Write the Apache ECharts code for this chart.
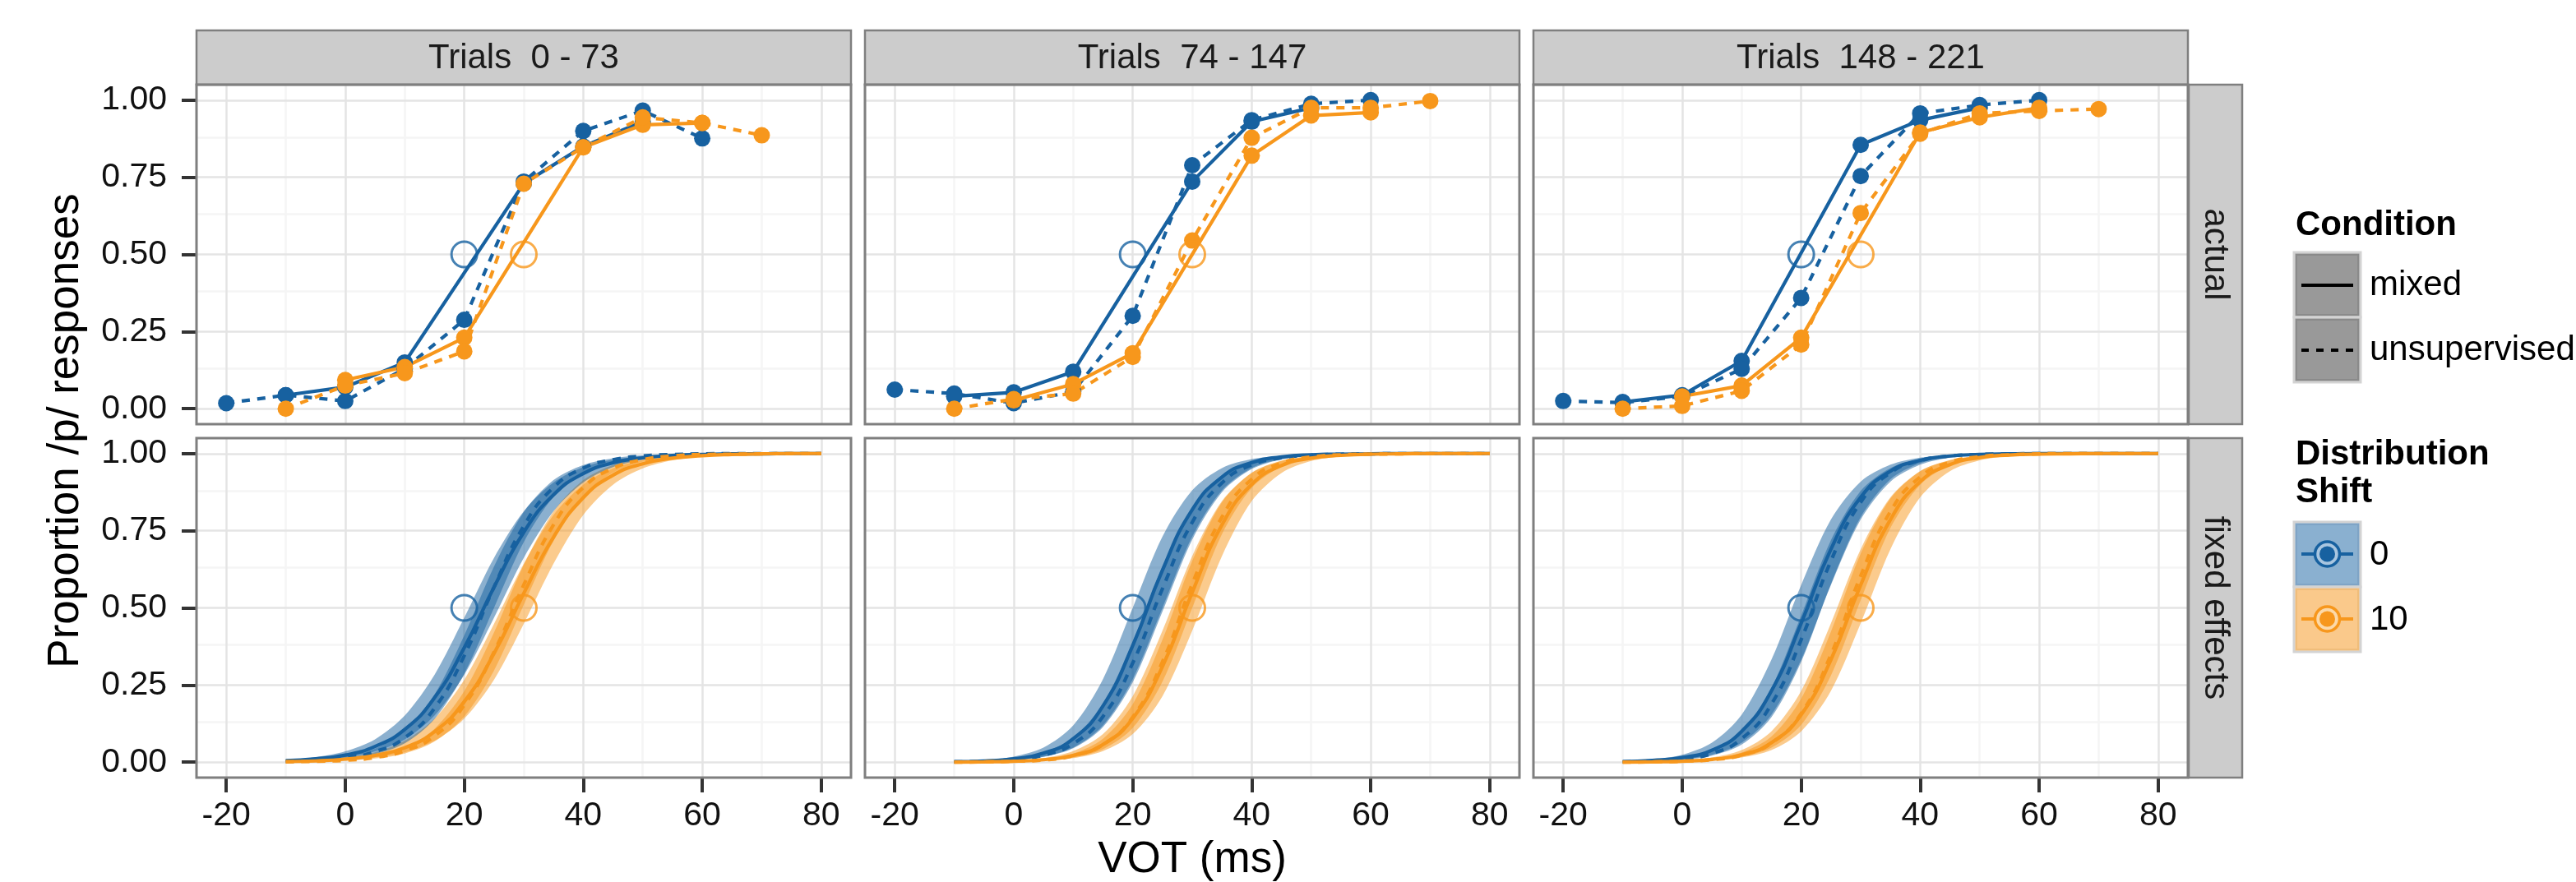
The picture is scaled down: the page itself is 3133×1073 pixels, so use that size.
<!DOCTYPE html>
<html><head><meta charset="utf-8">
<script src="https://cdn.jsdelivr.net/npm/echarts@6/dist/echarts.min.js"></script>
<style>html,body{margin:0;padding:0;background:#fff;}#c{width:3133px;height:1073px;}</style>
</head><body><div id="c"></div>
<script>
// ---------------- DATA ----------------
const PANEL_TITLES = ['Trials  0 - 73', 'Trials  74 - 147', 'Trials  148 - 221'];
const ROW_TITLES = ['actual', 'fixed effects'];
const X_TICKS = [-20, 0, 20, 40, 60, 80];
const X_MINOR = [-10, 10, 30, 50, 70];
const Y_TICKS = [0, 0.25, 0.5, 0.75, 1];
const Y_MINOR = [0.125, 0.375, 0.625, 0.875];
const BOUNDARY_X = [20, 30];
const BOUNDARY_Y = [0.5, 0.5];

// actual proportions (top row)
const UNS0_X = [-20, -10, 0, 10, 20, 30, 40, 50, 60];
const MIX0_X = [-10, 0, 10, 30, 40, 50];
const UNS10_X = [-10, 0, 10, 20, 30, 40, 50, 60, 70];
const MIX10_X = [0, 10, 20, 40, 50, 60];

const ACT_P1_B_MIX = [0.044, 0.07, 0.15, 0.73, 0.85, 0.93];
const ACT_P1_B_UNS = [0.018, 0.044, 0.025, 0.13, 0.288, 0.736, 0.90, 0.966, 0.876];
const ACT_P1_O_MIX = [0.093, 0.135, 0.23, 0.847, 0.92, 0.926];
const ACT_P1_O_UNS = [0.0, 0.075, 0.115, 0.186, 0.729, 0.847, 0.944, 0.926, 0.886];

const ACT_P2_B_MIX = [0.04, 0.053, 0.12, 0.736, 0.93, 0.975];
const ACT_P2_B_UNS = [0.062, 0.049, 0.018, 0.055, 0.301, 0.789, 0.935, 0.988, 1.0];
const ACT_P2_O_MIX = [0.027, 0.08, 0.18, 0.82, 0.95, 0.96];
const ACT_P2_O_UNS = [0.0, 0.031, 0.049, 0.168, 0.545, 0.878, 0.975, 0.975, 0.997];

const ACT_P3_B_MIX = [0.022, 0.044, 0.155, 0.855, 0.935, 0.975];
const ACT_P3_B_UNS = [0.025, 0.02, 0.04, 0.129, 0.359, 0.754, 0.957, 0.984, 1.0];
const ACT_P3_O_MIX = [0.04, 0.075, 0.23, 0.895, 0.944, 0.975];
const ACT_P3_O_UNS = [0.0, 0.009, 0.058, 0.208, 0.634, 0.891, 0.957, 0.965, 0.971];

// fixed effects curves (bottom row), read at these VOT values
const VOT_GRID = [-10, -5, 0, 5, 10, 15, 20, 25, 30, 35, 40, 45, 50, 55, 60, 65, 70, 75, 80];

const FE_P1_B_MIX    = [.005,.011,.023,.051,.106,.209,.371,.567,.745,.866,.935,.970,.986,.994,.997,.999,.999,1,1];
const FE_P1_B_UNS    = [.002,.006,.014,.034,.079,.175,.345,.567,.765,.890,.953,.980,.992,.997,.999,1,1,1,1];
const FE_P1_B_MIX_HI = [.007,.016,.035,.074,.151,.283,.468,.662,.813,.906,.956,.980,.991,.996,.998,.999,1,1,1];
const FE_P1_B_MIX_LO = [.003,.007,.016,.035,.074,.151,.283,.468,.662,.813,.906,.956,.980,.991,.996,.998,.999,1,1];
const FE_P1_B_UNS_HI = [.003,.007,.018,.044,.102,.219,.411,.634,.810,.914,.963,.985,.994,.998,.999,1,1,1,1];
const FE_P1_B_UNS_LO = [.002,.004,.010,.026,.061,.140,.287,.500,.713,.860,.939,.974,.990,.996,.998,.999,1,1,1];
const FE_P1_O_MIX    = [.002,.004,.010,.022,.047,.099,.196,.352,.547,.729,.857,.930,.967,.985,.993,.997,.999,1,1];
const FE_P1_O_UNS    = [.001,.003,.006,.015,.037,.085,.185,.357,.574,.769,.890,.952,.980,.992,.997,.998,.999,1,1];
const FE_P1_O_MIX_HI = [.003,.007,.015,.032,.069,.141,.267,.448,.643,.801,.899,.952,.978,.990,.995,.998,.999,1,1];
const FE_P1_O_MIX_LO = [.001,.003,.007,.015,.032,.069,.141,.267,.448,.643,.801,.899,.952,.978,.990,.995,.998,.999,1];
const FE_P1_O_UNS_HI = [.001,.003,.008,.020,.047,.108,.230,.420,.639,.812,.914,.963,.984,.994,.997,.999,1,1,1];
const FE_P1_O_UNS_LO = [.001,.002,.005,.012,.028,.067,.148,.297,.510,.717,.860,.938,.974,.989,.995,.998,.999,1,1];

const FE_P2_B_MIX    = [.0015,.004,.011,.029,.076,.182,.378,.622,.818,.924,.971,.989,.996,.998,.999,1,1,1,1];
const FE_P2_B_UNS    = [.001,.003,.009,.023,.060,.148,.321,.562,.777,.905,.963,.986,.995,.998,.999,1,1,1,1];
const FE_P2_B_MIX_HI = [.002,.007,.018,.047,.119,.269,.500,.731,.881,.953,.982,.993,.998,.999,1,1,1,1,1];
const FE_P2_B_MIX_LO = [.001,.002,.007,.018,.047,.119,.269,.500,.731,.881,.953,.982,.993,.998,.999,1,1,1,1];
const FE_P2_B_UNS_HI = [.002,.004,.012,.031,.079,.190,.389,.634,.825,.928,.972,.990,.996,.998,.999,1,1,1,1];
const FE_P2_B_UNS_LO = [.001,.002,.006,.017,.045,.114,.259,.488,.721,.875,.950,.981,.993,.997,.999,1,1,1,1];
const FE_P2_O_MIX    = [0,.001,.003,.008,.022,.057,.142,.310,.550,.769,.900,.961,.985,.994,.998,.999,1,1,1];
const FE_P2_O_UNS    = [0,.001,.003,.007,.021,.057,.146,.325,.577,.794,.917,.969,.989,.996,.998,.999,1,1,1];
const FE_P2_O_MIX_HI = [.001,.002,.005,.013,.036,.091,.214,.426,.668,.846,.937,.976,.991,.997,.999,1,1,1,1];
const FE_P2_O_MIX_LO = [0,.001,.002,.005,.013,.036,.091,.214,.426,.668,.846,.937,.976,.991,.997,.999,1,1,1];
const FE_P2_O_UNS_HI = [0,.001,.004,.010,.028,.076,.188,.397,.652,.842,.938,.977,.992,.997,.999,1,1,1,1];
const FE_P2_O_UNS_LO = [0,.001,.002,.005,.015,.042,.111,.261,.500,.739,.889,.958,.985,.995,.998,.999,1,1,1];

const FE_P3_B_MIX    = [.002,.006,.015,.039,.100,.231,.450,.690,.858,.943,.978,.992,.997,.999,1,1,1,1,1];
const FE_P3_B_UNS    = [.001,.004,.010,.028,.076,.188,.397,.652,.842,.938,.977,.992,.997,.999,1,1,1,1,1];
const FE_P3_B_MIX_HI = [.003,.009,.024,.063,.154,.332,.574,.786,.909,.964,.987,.995,.998,.999,1,1,1,1,1];
const FE_P3_B_MIX_LO = [.001,.003,.009,.024,.063,.154,.332,.574,.786,.909,.964,.987,.995,.998,.999,1,1,1,1];
const FE_P3_B_UNS_HI = [.002,.005,.014,.038,.101,.241,.475,.719,.879,.953,.983,.994,.998,.999,1,1,1,1,1];
const FE_P3_B_UNS_LO = [.001,.003,.007,.021,.057,.146,.325,.577,.794,.917,.969,.989,.996,.998,.999,1,1,1,1];
const FE_P3_O_MIX    = [0,.001,.003,.009,.024,.063,.154,.332,.574,.786,.909,.964,.987,.995,.998,.999,1,1,1];
const FE_P3_O_UNS    = [0,.001,.003,.008,.023,.062,.158,.348,.603,.812,.924,.972,.990,.996,.999,1,1,1,1];
const FE_P3_O_MIX_HI = [.001,.002,.006,.015,.039,.100,.231,.450,.690,.858,.943,.978,.992,.997,.999,1,1,1,1];
const FE_P3_O_MIX_LO = [0,.001,.002,.006,.015,.039,.100,.231,.450,.690,.858,.943,.978,.992,.997,.999,1,1,1];
const FE_P3_O_UNS_HI = [0,.001,.004,.011,.031,.083,.206,.423,.675,.854,.943,.979,.993,.997,.999,1,1,1,1];
const FE_P3_O_UNS_LO = [0,.001,.002,.006,.017,.047,.121,.281,.525,.759,.899,.962,.986,.995,.998,.999,1,1,1];

// ---------------- LAYOUT / STYLE ----------------
const FONT = '"Liberation Sans", Arial, Helvetica, sans-serif';
const COL_B = '#1761A0', COL_O = '#F7971C';
const DASH = [10, 9];
const PANEL_LEFT = [239, 1052, 1865];
const PANEL_TOP = [103, 533];
const PANEL_W = 796, PANEL_H = 413;
const STRIP_TOP = 37, STRIP_RIGHT_X = 2662, STRIP_W = 65;

const ACT = [
  {bm: ACT_P1_B_MIX, bu: ACT_P1_B_UNS, om: ACT_P1_O_MIX, ou: ACT_P1_O_UNS},
  {bm: ACT_P2_B_MIX, bu: ACT_P2_B_UNS, om: ACT_P2_O_MIX, ou: ACT_P2_O_UNS},
  {bm: ACT_P3_B_MIX, bu: ACT_P3_B_UNS, om: ACT_P3_O_MIX, ou: ACT_P3_O_UNS}
];
const FE = [
  {bm: FE_P1_B_MIX, bu: FE_P1_B_UNS, bmh: FE_P1_B_MIX_HI, bml: FE_P1_B_MIX_LO, buh: FE_P1_B_UNS_HI, bul: FE_P1_B_UNS_LO,
   om: FE_P1_O_MIX, ou: FE_P1_O_UNS, omh: FE_P1_O_MIX_HI, oml: FE_P1_O_MIX_LO, ouh: FE_P1_O_UNS_HI, oul: FE_P1_O_UNS_LO},
  {bm: FE_P2_B_MIX, bu: FE_P2_B_UNS, bmh: FE_P2_B_MIX_HI, bml: FE_P2_B_MIX_LO, buh: FE_P2_B_UNS_HI, bul: FE_P2_B_UNS_LO,
   om: FE_P2_O_MIX, ou: FE_P2_O_UNS, omh: FE_P2_O_MIX_HI, oml: FE_P2_O_MIX_LO, ouh: FE_P2_O_UNS_HI, oul: FE_P2_O_UNS_LO},
  {bm: FE_P3_B_MIX, bu: FE_P3_B_UNS, bmh: FE_P3_B_MIX_HI, bml: FE_P3_B_MIX_LO, buh: FE_P3_B_UNS_HI, bul: FE_P3_B_UNS_LO,
   om: FE_P3_O_MIX, ou: FE_P3_O_UNS, omh: FE_P3_O_MIX_HI, oml: FE_P3_O_MIX_LO, ouh: FE_P3_O_UNS_HI, oul: FE_P3_O_UNS_LO}
];

const pairs = (xs, ys) => xs.map((x, i) => [x, ys[i]]);

const grids = [], xAxes = [], yAxes = [], series = [], graphics = [];

for (let r = 0; r < 2; r++) {
  for (let c = 0; c < 3; c++) {
    const gi = r * 3 + c;
    grids.push({left: PANEL_LEFT[c], top: PANEL_TOP[r], width: PANEL_W, height: PANEL_H, show: false, containLabel: false});
    xAxes.push({
      type: 'value', gridIndex: gi, min: -25, max: 85, position: 'bottom',
      axisLine: {show: false, onZero: false}, splitLine: {show: false},
      axisTick: {show: r === 1, customValues: X_TICKS, length: 18, inside: false, lineStyle: {color: '#333', width: 4}},
      axisLabel: {show: r === 1, customValues: X_TICKS, margin: 26, fontSize: 41, fontFamily: FONT, color: '#111'}
    });
    yAxes.push({
      type: 'value', gridIndex: gi, min: -0.05, max: 1.05, position: 'left',
      axisLine: {show: false, onZero: false}, splitLine: {show: false},
      axisTick: {show: c === 0, customValues: Y_TICKS, length: 18, inside: false, lineStyle: {color: '#333', width: 4}},
      axisLabel: {show: c === 0, customValues: Y_TICKS, margin: 36, fontSize: 41, fontFamily: FONT, color: '#111',
                  formatter: v => Number(v).toFixed(2)}
    });
    // grid lines
    const ml = [];
    X_MINOR.forEach(v => ml.push({xAxis: v, lineStyle: {color: '#F5F5F5', width: 2.5, type: 'solid'}}));
    Y_MINOR.forEach(v => ml.push({yAxis: v, lineStyle: {color: '#F5F5F5', width: 2.5, type: 'solid'}}));
    X_TICKS.forEach(v => ml.push({xAxis: v, lineStyle: {color: '#E4E4E4', width: 2.5, type: 'solid'}}));
    Y_TICKS.forEach(v => ml.push({yAxis: v, lineStyle: {color: '#E4E4E4', width: 2.5, type: 'solid'}}));
    series.push({
      type: 'line', xAxisIndex: gi, yAxisIndex: gi, data: [], silent: true, z: 1,
      markLine: {silent: true, z: 1, symbol: ['none', 'none'], label: {show: false}, animation: false, data: ml}
    });

    if (r === 0) {
      const d = ACT[c];
      const mk = (xs, ys, col, dashed) => ({
        type: 'line', xAxisIndex: gi, yAxisIndex: gi, data: pairs(xs, ys), z: 3,
        symbol: 'circle', symbolSize: 20, showSymbol: true, smooth: false,
        lineStyle: {color: col, width: 4.2, type: dashed ? DASH : 'solid'},
        itemStyle: {color: col}
      });
      series.push(mk(MIX0_X, d.bm, COL_B, false));
      series.push(mk(UNS0_X, d.bu, COL_B, true));
      series.push(mk(MIX10_X, d.om, COL_O, false));
      series.push(mk(UNS10_X, d.ou, COL_O, true));
    } else {
      const d = FE[c];
      const ribbon = (lo, hi, col) => {
        const rows = VOT_GRID.map((x, i) => [x, lo[i], hi[i]]);
        series.push({
          type: 'custom', coordinateSystem: 'cartesian2d', xAxisIndex: gi, yAxisIndex: gi, z: 2, silent: true,
          data: rows, encode: {x: 0, y: [1, 2]}, clip: true,
          renderItem: (params, api) => {
            if (params.dataIndex !== 0) return null;
            const top = rows.map(rw => api.coord([rw[0], rw[2]]));
            const bot = rows.map(rw => api.coord([rw[0], rw[1]])).reverse();
            return {type: 'polygon', shape: {points: top.concat(bot), smooth: 0.3},
                    style: {fill: col, opacity: 0.5}};
          }
        });
      };
      // orange ribbons drawn first, blue ribbons over them
      ribbon(d.oml, d.omh, COL_O);
      ribbon(d.oul, d.ouh, COL_O);
      ribbon(d.bml, d.bmh, COL_B);
      ribbon(d.bul, d.buh, COL_B);
      const ln = (ys, col, dashed) => ({
        type: 'line', xAxisIndex: gi, yAxisIndex: gi, data: pairs(VOT_GRID, ys), z: 3,
        symbol: 'none', smooth: true, lineStyle: {color: col, width: 4.2, type: dashed ? DASH : 'solid'}
      });
      series.push(ln(d.bm, COL_B, false));
      series.push(ln(d.bu, COL_B, true));
      series.push(ln(d.om, COL_O, false));
      series.push(ln(d.ou, COL_O, true));
    }
    // category boundary markers
    series.push({
      type: 'scatter', xAxisIndex: gi, yAxisIndex: gi, z: 5, symbol: 'circle', symbolSize: 31,
      data: BOUNDARY_X.map((x, i) => ({value: [x, BOUNDARY_Y[i]],
        itemStyle: {color: 'rgba(0,0,0,0)', borderColor: i === 0 ? COL_B : COL_O, borderWidth: 3}}))
    });
    // panel border
    graphics.push({type: 'rect', z: 100, silent: true,
      shape: {x: PANEL_LEFT[c], y: PANEL_TOP[r], width: PANEL_W, height: PANEL_H},
      style: {fill: 'none', stroke: '#7F7F7F', lineWidth: 3}});
  }
}

// top strips
PANEL_TITLES.forEach((t, c) => {
  graphics.push({type: 'rect', z: 90, silent: true,
    shape: {x: PANEL_LEFT[c], y: STRIP_TOP, width: PANEL_W, height: PANEL_TOP[0] - STRIP_TOP},
    style: {fill: '#CCCCCC', stroke: '#7F7F7F', lineWidth: 2.5}});
  graphics.push({type: 'text', z: 101, silent: true, x: PANEL_LEFT[c] + PANEL_W / 2, y: (STRIP_TOP + PANEL_TOP[0]) / 2 + 1,
    style: {text: t, font: '42px ' + FONT, fill: '#1A1A1A', align: 'center', verticalAlign: 'middle',
            textAlign: 'center', textVerticalAlign: 'middle'}});
});
// right strips
ROW_TITLES.forEach((t, r) => {
  graphics.push({type: 'rect', z: 90, silent: true,
    shape: {x: STRIP_RIGHT_X, y: PANEL_TOP[r], width: STRIP_W, height: PANEL_H},
    style: {fill: '#CCCCCC', stroke: '#7F7F7F', lineWidth: 2.5}});
  graphics.push({type: 'text', z: 101, silent: true, x: STRIP_RIGHT_X + STRIP_W / 2 - 1, y: PANEL_TOP[r] + PANEL_H / 2,
    rotation: -Math.PI / 2,
    style: {text: t, font: '42px ' + FONT, fill: '#1A1A1A', align: 'center', verticalAlign: 'middle',
            textAlign: 'center', textVerticalAlign: 'middle'}});
});
// axis titles
graphics.push({type: 'text', z: 101, silent: true, x: 80, y: 524, rotation: Math.PI / 2,
  style: {text: 'Proportion /p/ responses', font: '53px ' + FONT, fill: '#000', align: 'center', verticalAlign: 'middle',
          textAlign: 'center', textVerticalAlign: 'middle'}});
graphics.push({type: 'text', z: 101, silent: true, x: 1450, y: 1046,
  style: {text: 'VOT (ms)', font: '53px ' + FONT, fill: '#000', align: 'center', verticalAlign: 'middle',
          textAlign: 'center', textVerticalAlign: 'middle'}});

// legend
const LG_X = 2790, KEY_W = 81, KEY_H = 79, LBL_X = 2882;
function txt(t, x, y, font) {
  graphics.push({type: 'text', z: 101, silent: true, x: x, y: y,
    style: {text: t, font: font, fill: '#000', align: 'left', verticalAlign: 'middle', textAlign: 'left', textVerticalAlign: 'middle'}});
}
function keyBox(y, fill, inner) {
  graphics.push({type: 'rect', z: 100, silent: true, shape: {x: LG_X, y: y, width: KEY_W, height: KEY_H},
    style: {fill: fill, stroke: '#D3D3D3', lineWidth: 3}});
  graphics.push({type: 'rect', z: 100, silent: true, shape: {x: LG_X + 3, y: y + 3, width: KEY_W - 6, height: KEY_H - 6},
    style: {fill: 'none', stroke: inner, lineWidth: 2}});
}
txt('Condition', 2792, 274, 'bold 42px ' + FONT);
keyBox(307, '#999999', '#8A8A8A');
keyBox(386, '#999999', '#8A8A8A');
graphics.push({type: 'line', z: 102, silent: true, shape: {x1: 2799, y1: 347, x2: 2862, y2: 347}, style: {stroke: '#000', lineWidth: 4}});
graphics.push({type: 'line', z: 102, silent: true, shape: {x1: 2799, y1: 426, x2: 2862, y2: 426}, style: {stroke: '#000', lineWidth: 4, lineDash: [9, 9]}});
txt('mixed', LBL_X, 347, '42px ' + FONT);
txt('unsupervised', LBL_X, 426, '42px ' + FONT);

txt('Distribution', 2792, 553, 'bold 42px ' + FONT);
txt('Shift', 2792, 599, 'bold 42px ' + FONT);
keyBox(635, '#8AB0D0', '#7FA4C6');
keyBox(714, '#FAC98B', '#F0BD7A');
[[674, COL_B, '#A9C6E0'], [753, COL_O, '#FCD9A8']].forEach(([cy, col, light]) => {
  graphics.push({type: 'line', z: 102, silent: true, shape: {x1: 2799, y1: cy, x2: 2862, y2: cy}, style: {stroke: col, lineWidth: 4}});
  graphics.push({type: 'circle', z: 103, silent: true, shape: {cx: 2830.5, cy: cy, r: 15}, style: {fill: light, stroke: col, lineWidth: 3.5}});
  graphics.push({type: 'circle', z: 104, silent: true, shape: {cx: 2830.5, cy: cy, r: 9.5}, style: {fill: col}});
});
txt('0', LBL_X, 675, '42px ' + FONT);
txt('10', LBL_X, 754, '42px ' + FONT);

const chart = echarts.init(document.getElementById('c'), null, {renderer: 'canvas'});
chart.setOption({
  animation: false,
  backgroundColor: '#ffffff',
  grid: grids, xAxis: xAxes, yAxis: yAxes, series: series,
  graphic: {elements: graphics}
});
</script>
</body></html>
